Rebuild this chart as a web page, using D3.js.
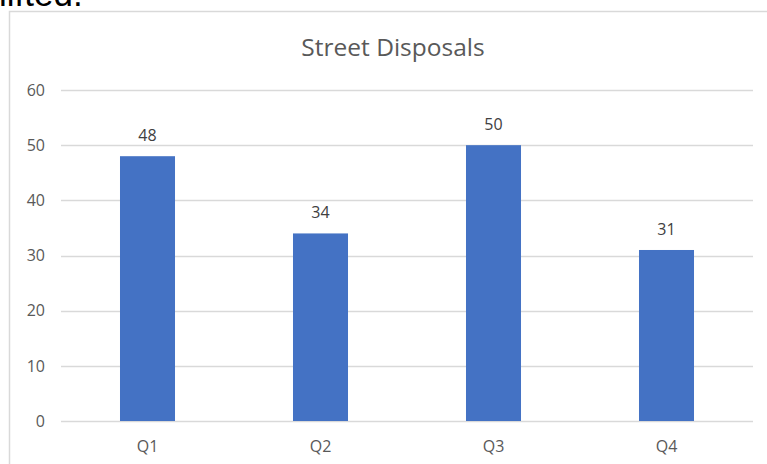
<!DOCTYPE html>
<html><head><meta charset="utf-8">
<script src="https://cdn.jsdelivr.net/npm/d3@7"></script>
<style>html,body{margin:0;padding:0;background:#fff;overflow:hidden}</style>
</head><body>
<script>
const categories = ["Q1", "Q2", "Q3", "Q4"];
const values = [48, 34, 50, 31];
const yTicks = [0, 10, 20, 30, 40, 50, 60];
const title = "Street Disposals";
const topText = "lifted.";

const W = 767, H = 464;
const svg = d3.select("body").append("svg").attr("width", W).attr("height", H);
const font = "'Open Sans', 'Noto Sans', sans-serif";

svg.append("text").attr("x", -1).attr("y", 6).text(topText)
  .attr("font-family", "'Liberation Sans', Arial, sans-serif").attr("font-size", 35).attr("fill", "#000");

// chart box (extends beyond viewport right/bottom)
svg.append("rect").attr("x", 9.5).attr("y", 11.5).attr("width", 800).attr("height", 500)
  .attr("fill", "#fff").attr("stroke", "#d9d9d9").attr("stroke-width", 1.5);

const x = d3.scaleBand().domain(categories).range([61, 753]).paddingInner(0.682).paddingOuter(0.341);
const y = d3.scaleLinear().domain([0, 60]).range([421, 90]);

const g = svg.append("g");
g.selectAll("line.grid").data(yTicks).join("line").attr("class", "grid")
  .attr("x1", 61).attr("x2", 753).attr("y1", d => Math.round(y(d)) + 0.5).attr("y2", d => Math.round(y(d)) + 0.5)
  .attr("stroke", "#d9d9d9").attr("stroke-width", 1.3);

g.selectAll("text.yl").data(yTicks).join("text").attr("class", "yl")
  .attr("x", 45).attr("y", d => y(d)).attr("dy", "0.36em").attr("text-anchor", "end")
  .attr("font-family", font).attr("font-size", 16).attr("fill", "#595959").text(d => d);

g.selectAll("rect.bar").data(values).join("rect").attr("class", "bar")
  .attr("x", (d, i) => x(categories[i])).attr("width", x.bandwidth())
  .attr("y", d => y(d)).attr("height", d => y(0) - y(d)).attr("fill", "#4472C4");

g.selectAll("text.vl").data(values).join("text").attr("class", "vl")
  .attr("x", (d, i) => x(categories[i]) + x.bandwidth() / 2).attr("y", d => y(d) - 15)
  .attr("text-anchor", "middle").attr("font-family", font).attr("font-size", 16).attr("fill", "#404040").text(d => d);

g.selectAll("text.xl").data(categories).join("text").attr("class", "xl")
  .attr("x", d => x(d) + x.bandwidth() / 2).attr("y", 452)
  .attr("text-anchor", "middle").attr("font-family", font).attr("font-size", 16).attr("fill", "#595959").text(d => d);

svg.append("text").attr("x", 393).attr("y", 56).attr("text-anchor", "middle")
  .attr("font-family", font).attr("font-size", 24.5).attr("fill", "#595959").text(title);
</script>
</body></html>
